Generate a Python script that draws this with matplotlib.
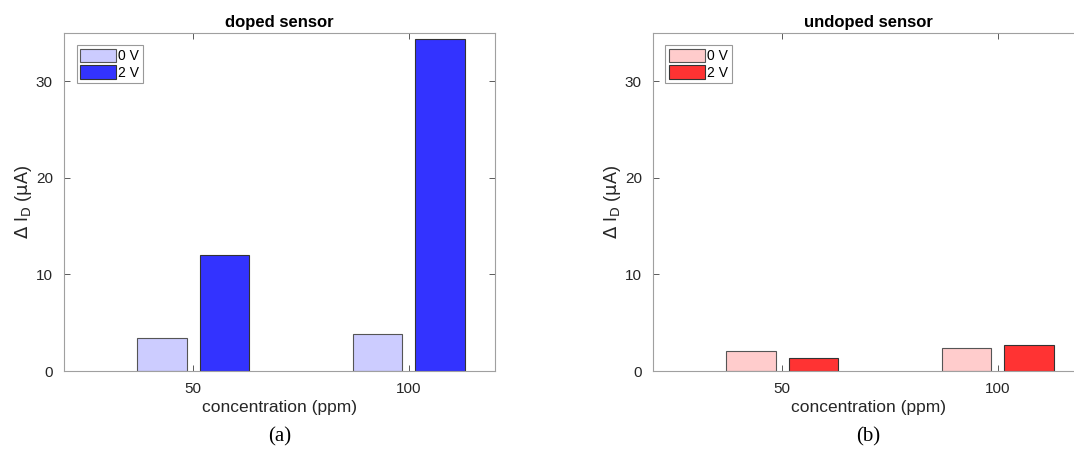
import matplotlib.pyplot as plt
import numpy as np

plt.rcParams['font.family'] = ['Liberation Sans', 'DejaVu Sans']

conc = ['50', '100']
doped_0V = [3.4, 3.85]
doped_2V = [12.0, 34.4]
undoped_0V = [2.05, 2.4]
undoped_2V = [1.4, 2.75]

titles = ['doped sensor', 'undoped sensor']
letters = ['(a)', '(b)']
light = ['#ccccff', '#ffcccc']
dark = ['#3333ff', '#ff3333']

fig = plt.figure(figsize=(10.74, 4.57), dpi=100)
ax1 = fig.add_axes([0.0596, 0.188, 0.401, 0.740])
ax2 = fig.add_axes([0.608, 0.188, 0.401, 0.740])

x = np.arange(1, len(conc) + 1)
w = 0.23
off = 0.145
spine_col = '#a0a0a0'
txt_col = '#262626'

for i, (ax, v0, v2) in enumerate([(ax1, doped_0V, doped_2V), (ax2, undoped_0V, undoped_2V)]):
    ax.bar(x - off, v0, w, color=light[i], edgecolor='#555555', linewidth=0.8, label='0 V')
    ax.bar(x + off, v2, w, color=dark[i], edgecolor='#333333', linewidth=0.8, label='2 V')
    ax.set_xlim(0.4, 2.4)
    ax.set_ylim(0, 35)
    ax.set_xticks(x)
    ax.set_xticklabels(conc)
    ax.set_yticks([0, 10, 20, 30])
    ax.tick_params(direction='in', top=True, right=True, length=4, width=0.6,
                   color='#404040', labelsize=11, labelcolor=txt_col, pad=8)
    for s in ax.spines.values():
        s.set_color(spine_col)
        s.set_linewidth(0.8)
    ax.set_title(titles[i], fontsize=12, fontweight='bold', color='black', pad=4)
    ax.set_xlabel('concentration (ppm)', fontsize=12.5, color=txt_col, labelpad=3)
    ax.set_ylabel(r'$\Delta$ I$_\mathrm{D}$ ($\mathrm{\mu}$A)', fontsize=13, color=txt_col)
    ax.yaxis.set_label_coords(-0.07, 0.5)
    leg = ax.legend(loc='upper left', fontsize=10, frameon=True, fancybox=False,
                    handlelength=2.6, handleheight=1.1, handletextpad=0.15,
                    borderpad=0.25, labelspacing=0.15, borderaxespad=0.9)
    leg.get_frame().set_edgecolor('#808080')
    leg.get_frame().set_linewidth(0.8)
    ax.text(0.5, -0.195, letters[i], transform=ax.transAxes, ha='center', va='center',
            fontsize=15, family=['Liberation Serif', 'DejaVu Serif'], color='black')

fig.savefig('out.png', dpi=100)
